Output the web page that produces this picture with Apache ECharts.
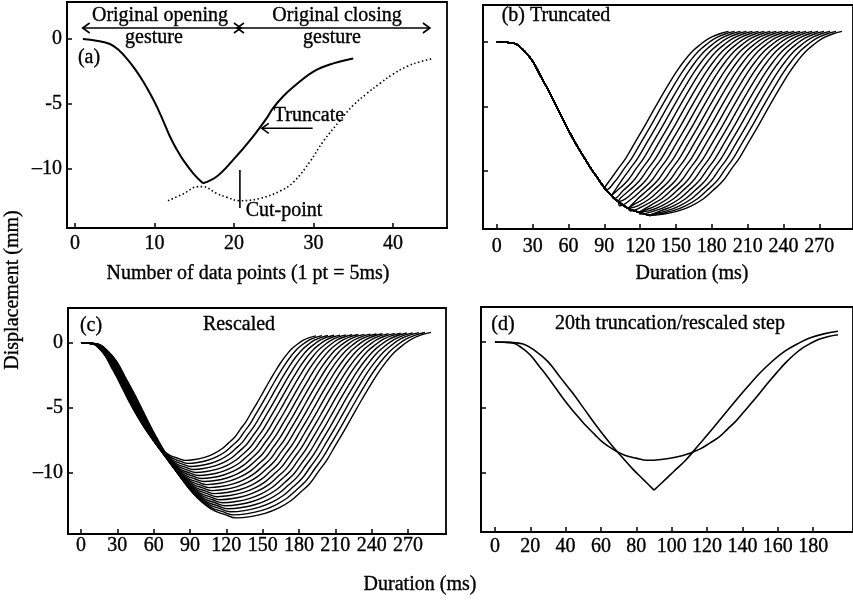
<!DOCTYPE html>
<html>
<head>
<meta charset="utf-8">
<script src="https://cdn.jsdelivr.net/npm/echarts@6/dist/echarts.min.js"></script>
<style>
  html, body { margin: 0; padding: 0; background: #fff; }
  #chart { width: 853px; height: 603px; }
</style>
</head>
<body>
<div id="chart"></div>
<script>
// ---- (a) one gesture, x in data points (1 pt = 5 ms), y in mm ----
const truncatedGestureA = [
  [1, 0], [2.7, -0.13], [4.4, -0.38], [5.5, -0.85], [6.5, -1.49], [7.6, -2.35],
  [8.6, -3.28], [9.5, -4.25], [10.3, -5.2], [11.1, -6.3], [11.95, -7.5], [12.8, -8.5],
  [13.6, -9.3], [14.9, -10.35], [16.1, -11.1], [17.8, -10.6], [19.9, -9.3], [22.4, -7.5],
  [24.1, -6.1], [24.9, -5.33], [26.2, -4.4], [27.5, -3.67], [30, -2.5], [32.5, -1.87], [35, -1.49]
];
const originalGestureA = [
  [11.7, -12.44], [13.6, -11.92], [15.5, -11.36], [16.1, -11.36], [17.8, -11.87], [19.1, -12.18],
  [20.75, -12.44], [23.3, -12.26], [25.8, -11.7], [27.5, -11.0], [29.6, -9.4], [31.2, -7.9],
  [33.3, -6.3], [35, -5.1], [36.7, -4.2], [38.4, -3.4], [40, -2.7], [41.8, -2.1], [43.4, -1.75], [45, -1.5]
];

// ---- original gesture in ms / mm: opening down to the minimum, then closing ----
const originalOpening = [
  [0, 0], [8, -0.03], [16, -0.15], [23, -0.7], [30, -1.5], [37, -2.7], [44, -3.9], [51, -5.2],
  [58, -6.5], [65, -7.7], [72, -8.8], [78, -9.7], [84, -10.5], [90, -11.3], [96, -11.9],
  [102, -12.4], [110, -12.9], [119, -13.2], [128, -13.45]
];
const originalClosing = [
  [128, -13.45], [140, -13.35], [152, -13.1], [163, -12.7], [173, -12.15], [181, -11.5],
  [189, -10.8], [196, -9.9], [203, -9.0], [210, -7.9], [217, -6.8], [224, -5.65], [231, -4.5],
  [238, -3.4], [245, -2.35], [252, -1.45], [259, -0.7], [266, -0.15], [273, 0.3], [281, 0.62], [289, 0.82]
];

// ms removed at each truncation step (1 pt = 5 ms)
const truncationStepsMs = [0, 5, 10, 15, 20, 25, 30, 35, 40, 45, 50, 55, 60, 65, 70, 75, 80, 85, 90, 95];
const highlightedStep = 19;

// tick labels
const pointTicks = [0, 10, 20, 30, 40];
const msTicksLong = [0, 30, 60, 90, 120, 150, 180, 210, 240, 270];
const msTicksShort = [0, 20, 40, 60, 80, 100, 120, 140, 160, 180];
const displacementTicks = [-10, -5, 0];

// ---- annotation anchors for panel (a), in panel (a) units ----
const spanArrowY = 0.85;
const openingSpan = [0.97, 20.88];
const closingSpan = [20.38, 44.65];
const truncateArrow = { from: [29.9, -6.87], to: [23.5, -6.87] };
const cutPoint = { x: 20.75, top: -10.08, bottom: -13.0 };

// ---------------------------------------------------------------
const FONT = "'Liberation Serif','Times New Roman',Times,serif";
const INK = '#000';

function closingValueAt(t) {
  const c = originalClosing;
  if (t <= c[0][0]) return c[0][1];
  for (let i = 1; i < c.length; i++) {
    if (t <= c[i][0]) {
      const [t0, y0] = c[i - 1], [t1, y1] = c[i];
      return y0 + (y1 - y0) * (t - t0) / (t1 - t0);
    }
  }
  return c[c.length - 1][1];
}

// Opening kept down to where it meets the shifted closing; the closing then
// continues from that corner. Returned as two pieces sharing the corner.
function truncatedParts(shift) {
  const opening = [];
  let prevGap = Infinity;
  for (const p of originalOpening) {
    const gap = p[1] - closingValueAt(p[0] + shift);
    if (shift > 0 && opening.length && gap < 0) {
      if (-gap < prevGap) opening.push(p);
      break;
    }
    opening.push(p);
    prevGap = gap;
  }
  const corner = opening[opening.length - 1];
  const closing = [corner];
  for (const q of originalClosing) {
    const t = q[0] - shift;
    if (t > corner[0]) closing.push([t, q[1]]);
  }
  return [opening, closing];
}

const originalFull = [].concat(...truncatedParts(0)).filter((p, i, a) => i === 0 || p[0] > a[i - 1][0]);
const fullDuration = originalClosing[originalClosing.length - 1][0];

// proportional rescaling of the original to the truncated duration
function rescaled(shift) {
  const f = (fullDuration - shift) / fullDuration;
  return originalFull.map(([t, y]) => [t * f, y * f]);
}

// split a trace at its lowest point so the corner stays sharp
function splitAtMin(points) {
  let k = 0;
  points.forEach((p, i) => { if (p[1] < points[k][1]) k = i; });
  return [points.slice(0, k + 1), points.slice(k)];
}

function xAxis(gridIndex, min, max, ticks, margin) {
  return {
    type: 'value', gridIndex, min, max,
    axisLine: { show: true, onZero: false, lineStyle: { color: INK, width: 1.8 } },
    splitLine: { show: false },
    axisTick: { show: true, inside: true, length: 5, customValues: ticks, lineStyle: { color: INK, width: 1.5 } },
    axisLabel: {
      show: true, customValues: ticks, margin, color: INK, fontFamily: FONT, fontSize: 20,
      textBorderColor: INK, textBorderWidth: 0.35
    }
  };
}
function yAxis(gridIndex, min, max, showLabels) {
  return {
    type: 'value', gridIndex, min, max,
    axisLine: { show: true, onZero: false, lineStyle: { color: INK, width: 1.8 } },
    splitLine: { show: false },
    axisTick: { show: true, inside: true, length: 5, customValues: displacementTicks, lineStyle: { color: INK, width: 1.5 } },
    axisLabel: {
      show: showLabels, customValues: displacementTicks, margin: 5, color: INK, fontFamily: FONT, fontSize: 20,
      textBorderColor: INK, textBorderWidth: 0.35,
      formatter: v => (v === -10 ? '\u201310' : String(v))
    }
  };
}
function line(idx, data, width, dashed) {
  return {
    type: 'line', xAxisIndex: idx, yAxisIndex: idx, data,
    showSymbol: false, smooth: 0.4, silent: true,
    lineStyle: dashed
      ? { color: INK, width: 1.6, type: [1.5, 2.5] }
      : { color: INK, width }
  };
}

const series = [];
splitAtMin(truncatedGestureA).forEach(part => series.push(line(0, part, 2)));
series.push(line(0, originalGestureA, 1.6, true));
truncationStepsMs.forEach(s => truncatedParts(s).forEach(part => series.push(line(1, part, 1.4))));
truncationStepsMs.forEach(s => series.push(line(2, rescaled(s), 1.4)));
truncatedParts(truncationStepsMs[highlightedStep]).forEach(part => series.push(line(3, part, 1.6)));
series.push(line(3, rescaled(truncationStepsMs[highlightedStep]), 1.6));

const gridStyle = { show: true, borderColor: INK, borderWidth: 1.8, backgroundColor: 'transparent', containLabel: false };

const chart = echarts.init(document.getElementById('chart'), null, { renderer: 'canvas' });
chart.setOption({
  animation: false,
  backgroundColor: '#fff',
  grid: [
    Object.assign({ left: 67, top: 2, width: 380, height: 226 }, gridStyle),
    Object.assign({ left: 483, top: 5, width: 373, height: 224 }, gridStyle),
    Object.assign({ left: 68, top: 308, width: 378, height: 226 }, gridStyle),
    Object.assign({ left: 481, top: 307, width: 375, height: 225 }, gridStyle)
  ],
  xAxis: [
    xAxis(0, -1.0, 46.8, pointTicks, 6),
    xAxis(1, -11.6, 298.2, msTicksLong, 8),
    xAxis(2, -10.7, 301.4, msTicksLong, 2),
    xAxis(3, -7.85, 202.5, msTicksShort, 5)
  ],
  yAxis: [
    yAxis(0, -14.54, 2.85, true),
    yAxis(1, -14.5, 2.87, false),
    yAxis(2, -14.69, 2.69, true),
    yAxis(3, -14.5, 2.67, false)
  ],
  series
});

// ---- annotations ----
const toPx = p => chart.convertToPixel({ gridIndex: 0 }, p);
const stroke = { stroke: INK, lineWidth: 1.6, fill: null };

function chevron(tip, dir) {
  const [x, y] = tip;
  return { type: 'polyline', shape: { points: [[x - dir * 7, y - 5], [x, y], [x - dir * 7, y + 5]] }, style: stroke, silent: true };
}
function seg(a, b) {
  return { type: 'line', shape: { x1: a[0], y1: a[1], x2: b[0], y2: b[1] }, style: stroke, silent: true };
}
function text(str, x, y, opts) {
  return Object.assign({
    type: 'text', x, y, silent: true,
    style: {
      text: str, fill: INK, font: '20px ' + FONT, align: 'center', verticalAlign: 'middle',
      stroke: INK, lineWidth: 0.35
    }
  }, opts || {});
}

const o1 = toPx([openingSpan[0], spanArrowY]), o2 = toPx([openingSpan[1], spanArrowY]);
const c1 = toPx([closingSpan[0], spanArrowY]), c2 = toPx([closingSpan[1], spanArrowY]);
const tFrom = toPx(truncateArrow.from), tTo = toPx(truncateArrow.to);
const cTop = toPx([cutPoint.x, cutPoint.top]), cBot = toPx([cutPoint.x, cutPoint.bottom]);

const graphic = [
  seg(o1, o2), chevron(o1, -1), chevron(o2, 1),
  seg(c1, c2), chevron(c1, -1), chevron(c2, 1),
  seg(tFrom, tTo), chevron(tTo, -1),
  seg(cTop, cBot),
  text('Original opening', 160, 16),
  text('gesture', 154, 38),
  text('Original closing', 337, 16),
  text('gesture', 332, 38),
  text('(a)', 89, 58),
  text('Truncate', 309, 116),
  text('Cut-point', 284, 211),
  text('(b) Truncated', 556, 16),
  text('(c)', 91, 326),
  text('Rescaled', 239, 325),
  text('(d)', 503, 325),
  text('20th truncation/rescaled step', 670, 324),
  text('Number of data points (1 pt = 5ms)', 248, 274),
  text('Duration (ms)', 692, 274),
  text('Duration (ms)', 420, 585),
  text('Displacement (mm)', 13, 290, { rotation: Math.PI / 2 })
];
chart.setOption({ graphic });
</script>
</body>
</html>
